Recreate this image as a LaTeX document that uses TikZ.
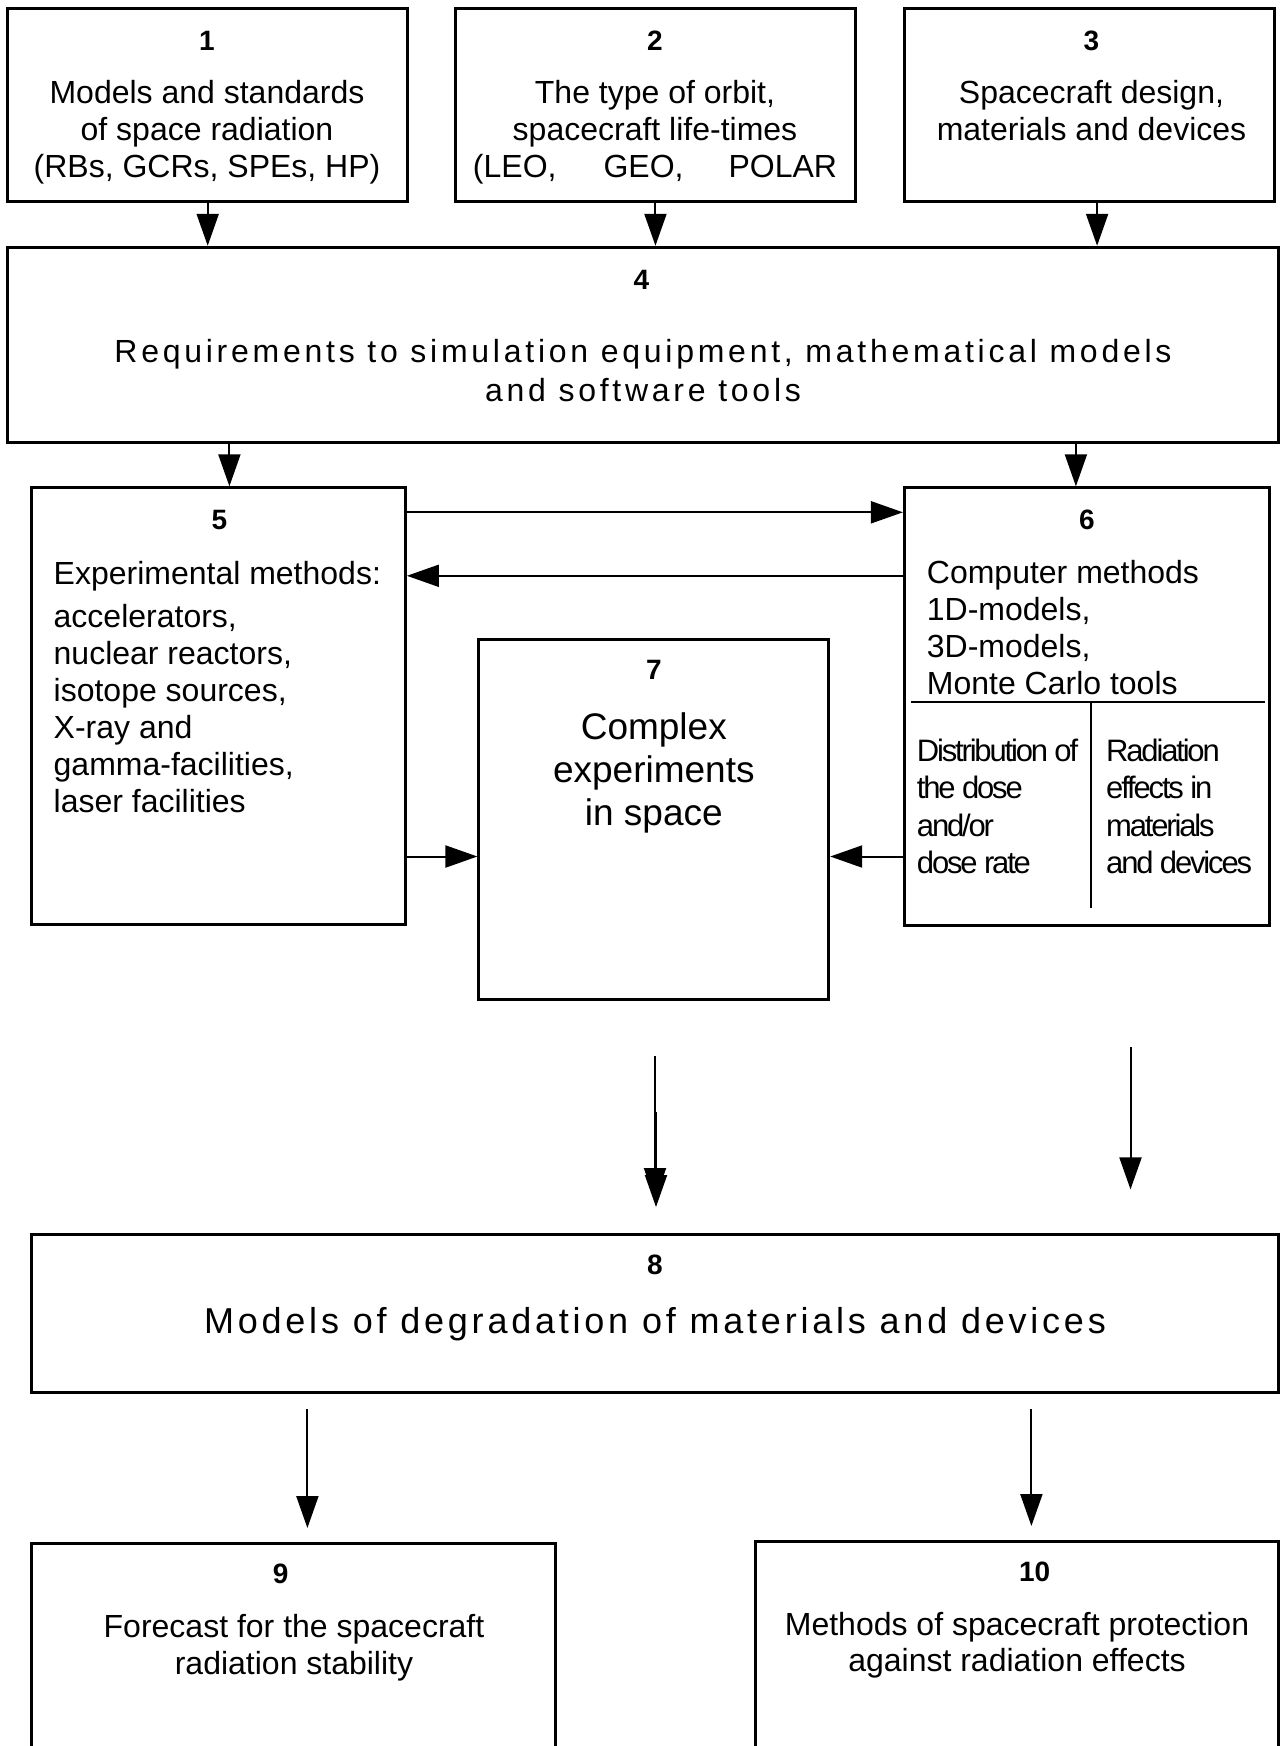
\documentclass[tikz,border=0pt]{standalone}
\usepackage{fontspec}
\setmainfont{Liberation Sans}
\newfontfamily\widefont[LetterSpace=11.7]{Liberation Sans}
\newfontfamily\midfont[LetterSpace=10.5]{Liberation Sans}
\newfontfamily\tightfont[LetterSpace=-7]{Liberation Sans}
\usetikzlibrary{arrows.meta,calc}
\begin{document}
\begin{tikzpicture}[x=1pt,y=-1pt,
  box/.style={draw, line width=3pt, inner sep=0pt},
  arr/.style={line width=2pt, -{Triangle[length=32pt,width=22pt]}},
  num/.style={inner sep=0pt, font=\fontsize{28}{32}\selectfont\bfseries},
  txt/.style={inner sep=0pt, align=center, font=\fontsize{32}{36.8}\selectfont},
  ltxt/.style={inner sep=0pt, align=left, anchor=west, font=\fontsize{32}{36.9}\selectfont},
  ntxt/.style={inner sep=0pt, align=left, anchor=west, font=\fontsize{31}{37.1}\selectfont\tightfont},
  divider/.style={line width=2pt}]
\useasboundingbox (0,0) rectangle (1282,1746);
\clip (0,0) rectangle (1282,1746);

% boxes
\node[box, minimum width=399.8pt, minimum height=192.7pt] (b1) at (207.7,105.25) {};
\node[box, minimum width=399.9pt, minimum height=192.7pt] (b2) at (655.45,105.25) {};
\node[box, minimum width=369.8pt, minimum height=192.7pt] (b3) at (1089.3,105.25) {};
\node[box, minimum width=1270.8pt, minimum height=194.9pt] (b4) at (643.2,344.75) {};
\node[box, minimum width=374.2pt, minimum height=436.7pt] (b5) at (218.3,706.15) {};
\node[box, minimum width=365.3pt, minimum height=437.8pt] (b6) at (1087.05,706.7) {};
\node[box, minimum width=349.8pt, minimum height=359.8pt] (b7) at (653.8,819.2) {};
\node[box, minimum width=1247.4pt, minimum height=158.1pt] (b8) at (654.9,1313.15) {};
\node[box, minimum width=524.6pt, minimum height=256.3pt] (b9) at (293.5,1671.85) {};
\node[box, minimum width=523.4pt, minimum height=258.5pt] (b10) at (1016.9,1670.75) {};

% texts
\node[num] (n1) at (207,41.2) {1};
\node[txt] (t1) at (207,132.5) {Models and standards\\of space radiation\\(RBs, GCRs, SPEs, HP)};
\node[num] (n2) at (655,41.2) {2};
\node[txt] (t2) at (655,132.5) {The type of orbit,\\spacecraft life-times\\(LEO,\hspace{47pt}GEO,\hspace{45pt}POLAR};
\node[num] (n3) at (1091.5,41.2) {3};
\node[txt] (t3) at (1091.5,110.8) {Spacecraft design,\\materials and devices};
\node[num] (n4) at (641.5,279.6) {4};
\node[inner sep=0pt, align=center, font=\fontsize{32}{39}\selectfont\widefont] (t4) at (643,370.3)
  {Requirements to simulation equipment, mathematical models\\and software tools};
\node[num] (n5) at (219.4,520) {5};
\node[ltxt] (t5a) at (53.5,575.8) {Experimental methods:};
\node[ltxt] (t5b) at (53.5,708.4) {accelerators,\\nuclear reactors,\\isotope sources,\\X-ray and\\gamma-facilities,\\laser facilities};
\node[num] (n6) at (1087,520) {6};
\node[ltxt] (t6) at (926.7,627.6) {Computer methods\\1D-models,\\3D-models,\\Monte Carlo tools};
\node[ntxt] (t6a) at (916.7,806.4) {Distribution of\\the dose\\and/or\\dose rate};
\node[ntxt] (t6b) at (1106,806.4) {Radiation\\effects in\\materials\\and devices};
\node[num] (n7) at (653.8,669.4) {7};
\node[inner sep=0pt, align=center, font=\fontsize{37}{43.4}\selectfont] (t7) at (653.8,772.9) {Complex\\experiments\\in space};
\node[num] (n8) at (655,1265.3) {8};
\node[inner sep=0pt, font=\fontsize{36}{40}\selectfont\midfont] (t8) at (655,1324.3) {Models of degradation of materials and devices};
\node[num] (n9) at (280.7,1573.8) {9};
\node[inner sep=0pt, align=center, font=\fontsize{32}{36.7}\selectfont] (t9) at (294,1647.8) {Forecast for the spacecraft\\radiation stability};
\node[num] (n10) at (1034.7,1571.6) {10};
\node[inner sep=0pt, align=center, font=\fontsize{32}{35.7}\selectfont] (t10) at (1017,1645) {Methods of spacecraft protection\\against radiation effects};

% dividers in box 6
\coordinate (h6l) at (911,701.7);
\coordinate (h6r) at (1265,701.7);
\coordinate (v6t) at (1091,701.7);
\coordinate (v6b) at (1091,907.7);
\draw[divider] (h6l) -- (h6r);
\draw[divider] (v6t) -- (v6b);

% helper coordinates
\coordinate (x3) at (1097.1,0);
\coordinate (x45) at (229.4,0);
\coordinate (x46) at (1075.9,0);
\coordinate (y56) at (0,512.3);
\coordinate (y65) at (0,575.8);
\coordinate (y7) at (0,856.5);

% connectors
\draw[arr] (b1.south) -- (b1.south |- b4.north);
\draw[arr] (b2.south) -- (b2.south |- b4.north);
\draw[arr] (b3.south -| x3) -- (b4.north -| x3);
\draw[arr] (b4.south -| x45) -- (b5.north -| x45);
\draw[arr] (b4.south -| x46) -- (b6.north -| x46);
\draw[arr] (b5.east |- y56) -- (b6.west |- y56);
\draw[arr] (b6.west |- y65) -- (b5.east |- y65);
\draw[arr] (b5.east |- y7) -- (b7.west |- y7);
\draw[arr] (b6.west |- y7) -- (b7.east |- y7);

% free arrows
\coordinate (s7a) at (655,1055.9);
\coordinate (e7a) at (655,1200);
\coordinate (s7b) at (656,1112);
\coordinate (e7b) at (656,1207);
\coordinate (s6) at (1130.5,1047);
\coordinate (e6) at (1130.5,1189.4);
\coordinate (s9) at (307.4,1409);
\coordinate (e9) at (307.4,1528);
\coordinate (s10) at (1031.4,1409);
\coordinate (e10) at (1031.4,1526);
\draw[arr] (s7a) -- (e7a);
\draw[arr] (s7b) -- (e7b);
\draw[arr] (s6) -- (e6);
\draw[arr] (s9) -- (e9);
\draw[arr] (s10) -- (e10);
\end{tikzpicture}
\end{document}
